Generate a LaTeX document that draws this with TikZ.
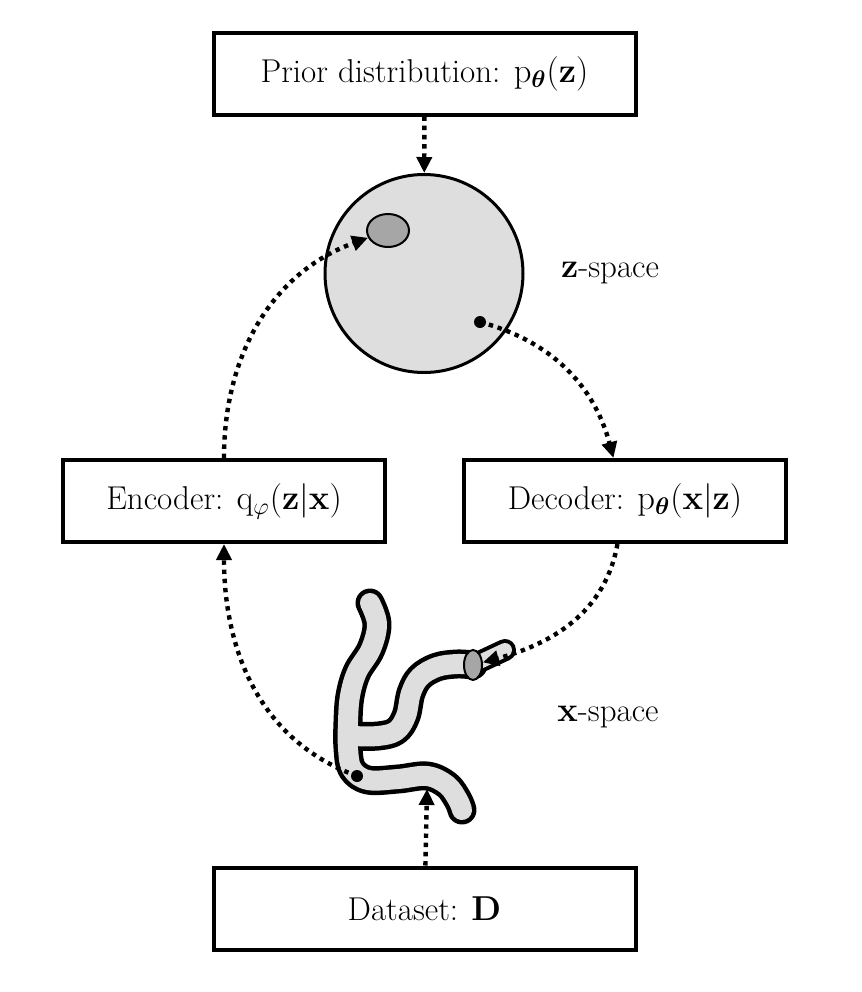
\documentclass[tikz,border=0pt]{standalone}
\usepackage{amsmath,amssymb}
\usetikzlibrary{arrows.meta,shapes.geometric}

\begin{document}
\begin{tikzpicture}[
    x=0.5pt, y=-0.5pt,
    vae box/.style={
        draw=black,
        line width=2pt,
        fill=white,
        minimum height=41pt,
        inner sep=0pt,
        font=\fontsize{16.5}{19}\selectfont
    },
    vae label/.style={
        font=\fontsize{16.5}{19}\selectfont
    },
    vae flow/.style={
        line width=2.2pt,
        dash pattern=on 2.2pt off 2.4pt,
        -{Triangle[length=8pt,width=7.5pt]}
    },
    vae blob/.style={
        ellipse,
        draw=black,
        line width=1pt,
        fill=black!35,
        inner sep=0pt
    },
    vae dot/.style={
        circle,
        fill=black,
        inner sep=0pt,
        minimum size=6pt
    }
]
    \useasboundingbox (0,0) rectangle (862,992);

    % Kaesten
    \node[vae box, minimum width=211pt] (prior) at (424.5,73.5)
        {Prior distribution: $\mathrm{p}_{\boldsymbol{\theta}}(\mathbf{z})$};
    \node[vae box, minimum width=161pt] (enc) at (224,501)
        {Encoder: $\mathrm{q}_{\varphi}(\mathbf{z}|\mathbf{x})$};
    \node[vae box, minimum width=161pt] (dec) at (625,501)
        {Decoder: $\mathrm{p}_{\boldsymbol{\theta}}(\mathbf{x}|\mathbf{z})$};
    \node[vae box, minimum width=211pt] (data) at (424.5,908.5)
        {Dataset: $\mathbf{D}$};

    % z-Raum
    \node[circle, draw=black, line width=1.5pt, fill=black!13,
        minimum size=99pt, inner sep=0pt] (zspace) at (424,273.5) {};
    \node[vae blob, minimum width=21pt, minimum height=16.5pt] (zpost) at (388,230.5) {};
    \node[vae dot] (zdot) at (480,322) {};
    \node[vae label] (zlabel) at (610,273) {$\mathbf{z}$-space};

    % x-Raum: Schlauch aus zwei Strichen (Rand, Fuellung)
    \foreach \wcol/\wmain/\wtip in {black/14.5pt/11pt, black!13/10pt/7pt} {
        \draw[\wcol, line width=\wmain, line cap=round, line join=round]
            plot[smooth, tension=0.6] coordinates {(370,603) (377,624) (371,649)
                (357,672) (350,696) (348,722) (348,748) (352,769) (368,780)
                (398,779) (427,776) (447,785) (458,800) (462,810)}
            plot[smooth, tension=0.6] coordinates {(352,736) (378,736) (396,731)
                (406,716) (411,693) (420,677) (437,667) (457,664) (473,665)};
        \draw[\wcol, line width=\wtip, line cap=round]
            (473,665) -- (505,650);
    }
    \node[vae blob, minimum width=9pt, minimum height=15pt] (xpost) at (473,665) {};
    \node[vae dot] (xdot) at (357,776) {};
    \node[vae label] (xlabel) at (608,717) {$\mathbf{x}$-space};
    \coordinate (xin) at (427,789);

    % Pfeile
    \draw[vae flow] (prior) -- (zspace);
    \draw[vae flow] (zdot.center) to[out=-15, in=105] (dec);
    \draw[vae flow] (dec) to[out=-100, in=15] (xpost);
    \draw[vae flow] (xdot.center) to[out=160, in=-90] (enc);
    \draw[vae flow] (enc) to[out=90, in=200] (zpost);
    \draw[vae flow] (data) -- (xin);
\end{tikzpicture}
\end{document}
